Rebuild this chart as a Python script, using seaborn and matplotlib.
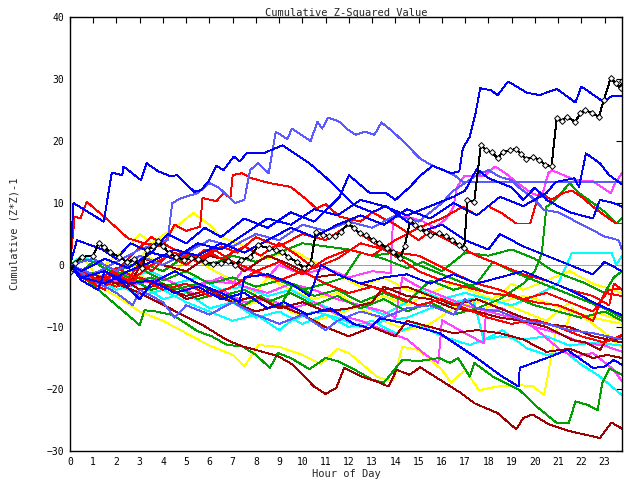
import matplotlib
matplotlib.use("Agg")
import matplotlib.pyplot as plt
import seaborn as sns
import pandas as pd

# ---- data: (hour, cumulative value) vertices per series ----
yellow_1 = [(0,0),(1,-3),(2,-5),(3,-7.5),(4,-9),(5,-11),(6,-13),(7,-14.5),(7.5,-16.4),(8.1,-12.9),(9,-13.2),(10,-14.5),(10.8,-16),(11.5,-13.5),(12,-14.2),(13.2,-18),(13.9,-18.8),(14.3,-13.2),(15,-13.7),(16,-16.9),(16.4,-19),(17,-16.9),(17.6,-20.2),(18.4,-19.6),(19.3,-19.4),(19.9,-19.5),(20.4,-21),(20.95,-9.7),(21.3,-10.5),(21.6,-7),(22.5,-9.5),(23.2,-11.5),(23.75,-13.4)]
yellow_2 = [(0,0),(0.5,1.5),(1,-1),(2,-3.5),(2.5,-1.5),(3.2,2),(3.5,1),(4.5,-1),(5.2,1.5),(6,-0.5),(7,-2.5),(8,-4.5),(8.5,-2),(9.5,-4),(10.5,-5.5),(11.5,-4.5),(12.5,-7),(13.5,-9),(14.5,-10.5),(15.5,-9.5),(16.5,-7),(17.5,-6),(18.5,-5),(19,-3),(19.5,-4),(20.5,-2.5),(21.5,-1),(22.5,-3),(23.75,-4.5)]
yellow_3 = [(0,0),(1,-2),(2,-3.5),(2.5,-1),(3.5,-2.5),(4.5,-4),(5.5,-3),(6.5,-5),(7.5,-6.5),(8.5,-5.5),(9.5,-7.5),(10.5,-9),(11.5,-8),(12.5,-6.5),(13.5,-5),(14.5,-6.5),(15.5,-4.5),(16.5,-3),(17.5,-4.5),(18.5,-6),(19.5,-5),(20.5,-6),(21.5,-7.5),(22.5,-8.5),(23.75,-9.5)]
yellow_4 = [(0,0),(0.5,1.5),(1.5,0),(2.5,3),(3,5),(3.5,3.5),(4.5,6),(5.3,8.4),(6,6.5),(6.5,4.5),(7.5,3),(8.5,1),(9.5,2.5),(10.5,0.5),(11.5,-1.5),(12.5,-3.5),(13.5,-2),(14.5,-4),(15.5,-5),(16.5,-6.5),(17.5,-7.5),(18.5,-6),(19.5,-7.5),(20.5,-9),(21.5,-6),(22.5,-7.5),(23.75,-9)]
cyan_1 = [(0,0),(0.5,1.5),(1.5,-0.5),(2.5,-2),(3.5,-1),(4.5,-3),(5.5,-2),(6.5,-4),(7.5,-3.5),(8.5,-5),(9.5,-4),(10.5,-6),(11.5,-7.5),(12.5,-6.5),(13.5,-8),(14.5,-6),(15,-4),(16,-5.5),(17,-4.5),(18,-5.5),(19,-6.5),(20,-5),(21,-3),(21.6,2),(22.5,2),(23.3,2),(23.5,0),(23.75,1.5)]
cyan_2 = [(0,0),(1,-2),(2,-4),(3,-3),(4,-5.5),(5,-4.5),(6,-7),(7,-6),(8,-8.5),(9,-7.5),(10,-9.5),(11,-8),(12,-10),(13,-9),(14,-11),(15,-9.5),(16,-11.5),(17.2,-12.9),(17.8,-12.1),(18.6,-10.5),(19.65,-13.4),(20.5,-14.5),(21.3,-14),(21.9,-15.8),(22.8,-18),(23.75,-21)]
cyan_3 = [(0,0),(1,-1.5),(2,-3),(3,-5),(4,-4),(5,-6),(6,-7.5),(7,-9),(8,-8),(9,-10.5),(9.5,-9),(10.5,-7.5),(11.5,-8.5),(12.5,-10),(13.5,-9),(14.5,-8.5),(15.5,-7),(16.5,-6),(17.35,-5.4),(17.8,-12.1),(18.5,-11.5),(19.5,-12),(20.5,-11.5),(21.5,-13),(22.5,-12.5),(23.75,-13)]
magenta_1 = [(0,0),(0.5,-2),(1.5,-3),(2.5,-1.5),(3,-3),(4,-2),(5,-4),(6,-2.5),(7,-3),(7.5,-0.5),(8.5,-2),(9,0),(10,-1.5),(11,-0.5),(12,-2),(13,-1),(13.8,-1.3),(13.9,7.8),(14.5,7.8),(15.2,7),(15.7,6),(16.2,7.5),(16.5,9.4),(16.65,12.6),(16.96,14.3),(17.8,14.3),(18.3,15.9),(18.84,14.5),(19.27,13.2),(19.85,11.6),(20.3,11),(20.58,14.8),(20.72,15.3),(21.74,13.7),(22.5,13.5),(23.26,11.6),(23.5,13.5),(23.75,14.8)]
magenta_2 = [(0,0),(0.5,-1.5),(1.5,-3),(2.5,-2),(3.5,-4),(4.5,-3),(5.5,-5),(6.5,-4),(7.5,-6),(8.5,-5.5),(9.5,-7),(10.5,-6),(11.5,-8),(12.5,-9),(13.5,-10.5),(14.5,-12),(15.3,-14.5),(15.85,-15.8),(16,-8.9),(17,-11),(17.8,-12.6),(17.9,-7.5),(18.6,-7),(19.9,-9.9),(21.1,-13.7),(21.7,-14.8),(22.5,-14.2),(23.4,-16.9),(23.75,-18.8)]
magenta_3 = [(0,0),(0.5,-1),(1.5,-2),(2.5,-3.5),(3.5,-2),(4.5,-4.5),(5.5,-3.5),(6.5,-2),(7.5,-3.5),(8.5,-4.5),(9.5,-3),(10.5,-4),(11.5,-5.5),(12.5,-6.5),(13.5,-7.5),(14,-8.5),(14.3,-2),(15,-3.5),(16,-5),(17,-6.5),(18,-7.5),(19,-8.5),(20,-10),(21,-11),(22,-12.5),(23,-13),(23.75,-14)]
green_1 = [(0,0),(1,-3.3),(2,-6.5),(3,-9.7),(3.2,-7.3),(3.7,-7.5),(4.45,-8.1),(5.5,-10.7),(6.1,-11.5),(6.75,-12.9),(7.4,-13.1),(8.0,-14.5),(8.6,-16.6),(8.95,-14.2),(9.5,-15),(10.3,-16.8),(11,-15),(11.5,-15.5),(12.3,-17),(13,-18.5),(13.5,-19),(14.3,-15.3),(15.0,-15.5),(15.9,-15),(16.35,-15.8),(16.7,-15),(17.2,-18),(17.4,-15.8),(18.2,-18),(19.35,-20.2),(20.1,-22.9),(20.95,-25.5),(21.46,-25.5),(21.75,-22),(22.3,-22.6),(22.7,-23.4),(22.9,-19.1),(23.2,-16.7),(23.75,-17.7)]
green_2 = [(0,0),(0.5,-1.5),(1.5,-1),(2.5,-3),(3.5,-2),(4.5,-4),(5.5,-3),(6.5,-5),(7.5,-4),(8.5,-6),(9.5,-4.5),(10.5,-6.5),(11.5,-5),(12.5,-7),(13.5,-5.5),(14.5,-7.5),(15.5,-6),(16.5,-8),(17.5,-7),(18.5,-5.5),(19.5,-3),(20,-1),(20.3,1.9),(20.5,9.4),(20.8,10.2),(21.5,13.2),(21.9,11.6),(22.5,10),(23.1,8.3),(23.5,6.7),(23.75,7.6)]
green_3 = [(0,0),(0.5,-1),(1,0.5),(2,-1.5),(3,-0.5),(4,-2.5),(5,-1),(6,-3),(7,-2),(8,-3.5),(9,-2.5),(10,-4),(11,-3),(11.8,-2),(12.5,2),(13.5,1),(14.5,-0.5),(15.2,0.5),(16,-1),(17,2),(18,1.5),(19,2.5),(20,1),(20.8,-1),(21.5,-2),(22.2,-3),(23,-4.5),(23.4,-2),(23.75,-1)]
green_4 = [(0,0),(0.5,1),(1.5,0),(2.5,-2),(3.5,-4),(4.5,-3),(5.5,-5.5),(6.5,-4.5),(7.5,-6.5),(8.2,-5),(9,-7),(9.6,-3),(10.5,-5),(11.5,-4),(12.5,-6),(13.5,-4.5),(14.5,-6),(15.5,-2.5),(16.5,-4),(17.5,-3),(18.2,0.5),(19,-1),(20,-2.5),(21,-4),(22,-5.5),(23,-7),(23.75,-8.5)]
green_5 = [(0,0),(1,1),(2,-1),(3,0.5),(4,-1),(5,1.5),(6,0),(7,1.5),(8,0.5),(9,2),(10,3.5),(11,3),(12,2.5),(13,1.5),(14,2),(15,0),(16,-1.5),(17,-3),(18,-4.5),(19,-5),(20,-6.5),(21,-7.5),(22,-8.5),(23,-7.5),(23.75,-9)]
darkred_1 = [(0,0),(1,-1.5),(2,-3),(3,-4.5),(3.9,-6.2),(4.55,-7.5),(5.8,-9.9),(6.75,-12.1),(7.4,-13.1),(8,-13.7),(8.95,-14.7),(9.6,-16.1),(10.5,-19.6),(11,-20.8),(11.46,-19.8),(11.8,-16.6),(12.56,-18),(13.2,-18.8),(13.7,-19.6),(14.05,-16.9),(14.6,-17.7),(15.07,-16.5),(15.7,-18),(16.8,-20.6),(17.4,-22.3),(18.4,-23.9),(19.2,-26.5),(19.5,-24.7),(19.9,-24.1),(20.6,-25.7),(21.5,-26.8),(22.8,-27.9),(23.3,-25.4),(23.75,-26.4)]
darkred_2 = [(0,0),(1,-2.5),(2,-1.5),(3,-4),(4,-3),(5,-5.5),(6,-4.5),(7,-6),(8,-5),(9,-7),(10,-6),(11,-7.5),(12,-7),(13,-6),(13.5,-3.5),(14.5,-5),(15.5,-5.5),(16.5,-7),(17.5,-7.5),(18.5,-8.5),(19.5,-9),(20.5,-10),(21.6,-12.1),(22.2,-12.5),(22.8,-13.7),(23.15,-11.6),(23.5,-12.1),(23.75,-11.3)]
darkred_3 = [(0,0),(1,-1.5),(2,-3),(3,-2),(4,-3.5),(5,-5),(6,-4),(7,-6),(8,-7.5),(9,-6.5),(10,-8),(11,-10),(12,-11.5),(13,-10),(14,-11.5),(14.5,-9),(15.5,-10),(16.5,-11),(17.5,-10.5),(18.5,-11),(19.5,-12),(20.5,-14),(21.5,-13.5),(22.5,-15),(23.1,-14.5),(23.75,-15)]
darkred_4 = [(0,0),(0.5,-1.5),(1.5,-2.5),(2.5,-3.5),(3.2,1),(4,0),(5,-1),(6,1.5),(7,0.5),(7.5,-1),(8.5,1.5),(9.5,0),(10.5,-2),(11.5,-1.5),(12.5,-3),(13.5,-4),(14.5,-3.5),(15.5,-5),(16.5,-6.5),(17.5,-5.5),(18.5,-7),(19.5,-8.5),(20.5,-9.5),(21.5,-10),(22.5,-11.5),(23.75,-12.5)]
red_1 = [(0,0),(0.2,7.8),(0.45,7.5),(0.72,10.2),(1.37,8.1),(1.94,6.2),(2.5,4.3),(3.2,3.5),(3.5,4.5),(4.5,2.5),(5.5,1),(6.2,2.5),(7,0.5),(8,-1),(9,-2.5),(10,-1),(11,-3),(12,-4.5),(13,-3.5),(14,-5),(15,-6.5),(16,-5.5),(17,-7),(18,-8.5),(19,-9.5),(20,-8.8),(21,-10),(22,-11.5),(23,-12.5),(23.75,-11.3)]
red_2 = [(0,0),(0.5,-1.5),(1.2,-3),(2,-1),(2.5,1),(3.2,3.5),(4,3),(4.5,6.5),(5,5.5),(5.6,6.2),(5.7,10.8),(6.3,10.3),(6.6,11.6),(6.9,10.8),(7.0,14.5),(7.4,14.8),(7.8,14),(8.6,13.2),(9.5,12.6),(10.2,10.5),(10.6,9.1),(11.0,9.8),(11.6,7.8),(12.5,7),(13,8.5),(14,6.5),(15,4),(15.5,5.5),(16.5,3.5),(17.5,1.5),(18.5,0),(19.5,-1.5),(20.5,-2.5),(21.5,-4),(22.5,-5),(23.2,-6.5),(23.4,-3),(23.75,-4)]
red_3 = [(0,0),(1,-2),(2,-3.5),(3,-2),(4,-4),(5,-3),(6,-5),(7,-3.5),(8,-1),(9,0.5),(10,-1.5),(11,1),(12,2.5),(13,1.5),(14,4),(15,6),(16,7.5),(16.9,9.4),(17.5,8.0),(18,9.5),(18.6,8.3),(19.2,6.7),(19.8,6.7),(20.2,11.8),(20.7,10.5),(21.2,11.6),(21.6,12),(22,11),(22.5,9.4),(23,8),(23.5,6.7),(23.75,6.7)]
red_4 = [(0,0),(0.5,-2),(1.5,-4),(1.8,-1),(2.5,-2.5),(3,0.5),(3.5,-1),(4.2,1.5),(5,0),(5.8,2.5),(6.5,1),(7.5,3),(8.2,1.5),(9,3.5),(9.8,1.5),(10.5,-0.5),(11.5,1),(12.5,3.5),(13.5,2.5),(14.2,1),(15,-1),(16,-2.5),(17,-3.5),(18,-4.5),(19,-5),(20,-6),(21,-6.5),(22,-8),(22.5,-9),(23,-4.5),(23.75,-5)]
red_5 = [(0,0),(0.5,-1),(1.2,-2.5),(2,-0.5),(2.8,-2),(3.5,0),(4.5,2),(5.5,0.5),(6.5,3),(7.2,2),(8,4.5),(9,3),(10,5),(11,4),(12,6.5),(12.5,5),(13.3,3),(14.1,2),(15,1.5),(15.8,0),(16.6,-1.5),(17.5,-3),(18.5,-4),(19.5,-5.5),(20.5,-4.5),(21.5,-6),(22.5,-7.5),(23.2,-4),(23.75,-3.8)]
lightblue_1 = [(0,0),(1,-1.5),(2,0.5),(3,2.5),(4.2,4),(4.4,10),(4.8,10.8),(5.5,11.6),(6,13.2),(6.4,12.5),(7.1,10),(7.5,10.5),(7.75,15.3),(8.1,16.4),(8.55,14.8),(8.85,21.5),(9.35,20.3),(9.55,22),(10.35,20),(10.65,23.1),(10.85,22),(11.1,23.8),(11.6,23.1),(11.9,22),(12.3,21),(12.7,21.5),(13.1,21),(13.4,23),(13.8,21.8),(14.35,19.9),(15.05,17.2),(15.65,15.9),(16.1,15.3),(16.6,14.3),(16.9,13.4),(23.75,13.4)]
lightblue_2 = [(0,0),(1,-2.5),(2,-4.5),(2.7,-6.5),(3,-4),(4,-6),(4.5,-8.5),(5,-6.5),(6,-8),(7,-6),(8,-8),(9,-9.5),(10,-8),(11,-10.5),(11.5,-9),(12.5,-7.5),(13.5,-8.5),(14.5,-7),(15.5,-6.5),(16.5,-8),(17,-5.5),(17.5,-7),(18.5,-7.5),(19.5,-9),(20.5,-9.5),(21.5,-10.5),(22.5,-11),(23.75,-12)]
lightblue_3 = [(0,0),(1,1),(2,-1),(3,1.5),(4,0),(5,2),(6,4),(7,3),(8,5),(9,4),(10,6.5),(11,5.5),(12,7),(13,6),(14,8),(15,7),(16,10),(16.5,12),(17.5,14.5),(18,15.3),(18.5,14.2),(19,13.7),(19.35,12.4),(19.85,11),(20.4,8.9),(21,8.5),(22.5,5.6),(23,4.6),(23.6,4),(23.75,2.5)]
blue_1 = [(0,0),(0.15,10),(1.45,7),(1.8,14.9),(2.25,14.5),(2.3,15.9),(3.05,13.7),(3.3,16.4),(3.8,15.1),(4.35,14.3),(4.6,14.5),(5.35,11.8),(5.65,12.1),(6.0,13.7),(6.3,16),(6.6,15.3),(7.05,17.5),(7.3,16.7),(7.6,18),(8.3,18),(9.15,19.3),(9.55,18.3),(10.3,16.4),(10.9,14.5),(11.45,12.6),(12.2,9.7),(13.0,8.5),(13.6,9.5),(14.5,7.0),(15.2,5.5),(16.0,6.5),(17.0,4.0),(18.0,2.5),(18.5,5.0),(19.5,3.0),(20.5,1.5),(21.5,0),(22.5,-1.5),(23.0,0.5),(23.75,-1.0)]
blue_2 = [(0,0),(0.3,4),(1.4,2.5),(2.0,1.0),(2.6,3.5),(3.5,2.0),(4.2,5.0),(5.0,3.5),(5.8,6.0),(6.5,4.5),(7.5,7.5),(8.5,6.0),(9.5,8.5),(10.5,7.0),(11.2,9.5),(11.6,11),(12.0,14.5),(12.9,11.6),(13.6,11.6),(14.0,10.5),(14.6,12.5),(15.1,14.5),(15.6,16),(16.4,14.8),(16.75,15.1),(16.9,18.8),(17.2,20.7),(17.45,24.5),(17.65,28.5),(18.1,28.2),(18.4,27.4),(18.85,29.6),(19.65,27.8),(20.2,27.4),(20.95,28.4),(21.75,26.2),(22.0,28.8),(22.95,26.3),(23.3,27.2),(23.75,27.2)]
blue_3 = [(0,0),(0.5,-2),(1.5,-3),(2.5,-1),(3.5,0.5),(4.5,2.5),(5.5,1.5),(6.5,3.5),(7.5,2),(8.5,4),(9.5,6),(10.5,4.5),(11.5,6.5),(12.5,8),(13.5,6.5),(14.5,9),(15.5,7.5),(16.5,10),(17.5,8),(18.5,11),(19.5,9.5),(20.5,11.6),(20.9,13.4),(21.7,14),(21.9,12.6),(22.2,18),(22.8,16.4),(23.2,14.5),(23.75,13.0)]
blue_4 = [(0,0),(0.5,-2),(1.5,-1),(2.5,-3),(3.5,-2.5),(4.5,-4.5),(5.5,-3.5),(6.5,-5.5),(7.5,-4.5),(8.5,-7),(9.2,-6),(10.2,-8),(11.2,-7),(12.2,-9.5),(12.9,-10.2),(13.35,-8.6),(14.5,-9.5),(15.9,-11),(16.7,-13),(17.5,-15),(18.6,-18),(19.3,-19.6),(19.35,-16.6),(20.65,-14.8),(21.4,-13.7),(22.5,-16.6),(23.0,-16.4),(23.4,-15.3),(23.75,-16.1)]
blue_5 = [(0,0),(0.5,-2.5),(1.2,-4),(1.5,-1),(2.3,-3),(3,-5.5),(3.5,-3),(4.5,-1),(5.5,-3),(6.5,-4.5),(7.3,-6),(7.5,-2),(8.5,-1.5),(9.5,-3),(10.3,-5),(10.8,0),(11.5,-1.5),(12.5,-3),(13.5,-2),(14.5,-1.5),(15.5,-3),(16.5,-1.5),(17.5,-3),(18.5,-2),(19.5,-1),(20.5,-2.5),(21.5,-4),(22.5,-6),(23.75,-8.1)]
blue_6 = [(0,0),(0.5,-1),(1.5,1),(2.5,-0.5),(3.5,2),(4.5,1),(5.5,3.5),(6.5,2.5),(7.5,5),(8.5,7.5),(9.5,6.5),(10.5,9),(11.5,8),(12.5,10.5),(13.5,9.5),(14.5,8),(15.5,9.5),(16.5,11),(17,12),(17.5,15.5),(18,14),(19,12.5),(19.5,10.5),(20,12.5),(20.5,10.5),(21.5,8.5),(22.5,7.5),(22.8,10.5),(23.4,10),(23.75,9.4)]
black_1 = [(0,-1.1),(0.2,0.3),(0.5,1.3),(1.0,1.5),(1.23,3.5),(1.45,2.9),(1.74,2.1),(2.1,1.3),(2.46,0.5),(2.75,0.9),(3.1,-0.5),(3.33,2.4),(3.55,3.0),(3.77,3.8),(4.0,3.0),(4.27,1.9),(4.57,1.3),(4.9,0.8),(5.2,1.1),(5.5,1.0),(5.8,0.5),(6.15,0.2),(6.5,0.3),(6.8,0.6),(7.1,0),(7.35,0.8),(7.75,1.3),(8.1,3.2),(8.55,2.7),(8.85,2.4),(9.13,2.1),(9.4,1.3),(9.75,0.5),(10.07,-0.5),(10.36,0.3),(10.58,5.4),(10.9,4.9),(11.16,4.6),(11.4,4.6),(11.67,5.4),(11.96,6.7),(12.2,6.0),(12.46,5.1),(12.75,4.8),(13.04,4.0),(13.3,3.6),(13.62,2.7),(13.9,2.1),(14.2,1.1),(14.4,3.0),(14.64,7.2),(14.85,6.5),(15.07,5.9),(15.3,5.3),(15.5,4.8),(15.87,5.1),(16.16,4.6),(16.45,4.0),(16.74,3.2),(16.96,2.7),(17.1,10.5),(17.39,10.2),(17.68,19.4),(17.9,18.5),(18.15,18.2),(18.4,17.2),(18.62,18.3),(18.91,18.5),(19.2,18.7),(19.4,17.9),(19.64,17.1),(19.93,17.4),(20.2,17.0),(20.43,16.1),(20.72,16.0),(20.94,23.7),(21.16,23.3),(21.37,23.9),(21.74,23.1),(21.96,24.5),(22.17,25.0),(22.46,24.5),(22.75,23.9),(22.97,26.6),(23.26,30.1),(23.48,29.3),(23.7,28.5),(23.75,29.6)]

gray_zero = [(2.4,0),(23.75,0)]

SERIES = [
    ("yellow_1", yellow_1, "#ffff00"), ("yellow_2", yellow_2, "#ffff00"),
    ("yellow_3", yellow_3, "#ffff00"), ("yellow_4", yellow_4, "#ffff00"),
    ("cyan_1", cyan_1, "#00ffff"), ("cyan_2", cyan_2, "#00ffff"), ("cyan_3", cyan_3, "#00ffff"),
    ("gray_zero", gray_zero, "#a0a0a0"),
    ("magenta_1", magenta_1, "#ff44ff"), ("magenta_2", magenta_2, "#ff44ff"), ("magenta_3", magenta_3, "#ff44ff"),
    ("green_1", green_1, "#00a000"), ("green_2", green_2, "#00a000"), ("green_3", green_3, "#00a000"),
    ("green_4", green_4, "#00a000"), ("green_5", green_5, "#00a000"),
    ("darkred_1", darkred_1, "#a00000"), ("darkred_2", darkred_2, "#a00000"),
    ("darkred_3", darkred_3, "#a00000"), ("darkred_4", darkred_4, "#a00000"),
    ("red_1", red_1, "#ff0000"), ("red_2", red_2, "#ff0000"), ("red_3", red_3, "#ff0000"),
    ("red_4", red_4, "#ff0000"), ("red_5", red_5, "#ff0000"),
    ("lightblue_1", lightblue_1, "#5a5aff"), ("lightblue_2", lightblue_2, "#5a5aff"), ("lightblue_3", lightblue_3, "#5a5aff"),
    ("blue_1", blue_1, "#0000ff"), ("blue_2", blue_2, "#0000ff"), ("blue_3", blue_3, "#0000ff"),
    ("blue_4", blue_4, "#0000ff"), ("blue_5", blue_5, "#0000ff"), ("blue_6", blue_6, "#0000ff"),
]

rows = []
for order, (name, pts, col) in enumerate(SERIES):
    for i, (h, v) in enumerate(pts):
        rows.append({"series": name, "hour": h, "value": v, "i": i, "order": order})
df = pd.DataFrame(rows)

black_df = pd.DataFrame(black_1, columns=["hour", "value"])

sns.set_style("white")
plt.rcParams["font.family"] = ["DejaVu Sans Mono"]

fig = plt.figure(figsize=(6.4, 4.8), dpi=100)
ax = fig.add_axes([70/640, 1 - 451/480, (622 - 70)/640, (451 - 17)/480])

for name, pts, col in SERIES:
    sub = df[df["series"] == name]
    sns.lineplot(data=sub, x="hour", y="value", color=col, sort=False,
                 estimator=None, lw=0.65, ax=ax, legend=False, antialiased=False)

sns.lineplot(data=black_df, x="hour", y="value", color="black", sort=False,
             estimator=None, lw=0.7, ax=ax, legend=False, marker="D",
             markersize=3.0, markerfacecolor="white", markeredgecolor="black",
             markeredgewidth=0.7, antialiased=False)

ax.set_xlim(0, 23.75)
ax.set_ylim(-30, 40)
ax.set_xticks(list(range(0, 24)))
ax.set_xticklabels([str(h) for h in range(0, 24)])
ax.set_yticks(list(range(-30, 41, 10)))
ax.tick_params(direction="in", length=4, width=0.8, top=True, right=True,
               labelsize=7, colors="black", pad=4)
for s in ax.spines.values():
    s.set_color("black")
    s.set_linewidth(1.0)
ax.set_xlabel("Hour of Day", fontsize=7.5, labelpad=2)
ax.set_ylabel("Cumulative (Z*Z)-1", fontsize=7.5, labelpad=20)
ax.set_title("Cumulative Z-Squared Value", fontsize=7.5, pad=1)

fig.savefig("out.png", dpi=100)
